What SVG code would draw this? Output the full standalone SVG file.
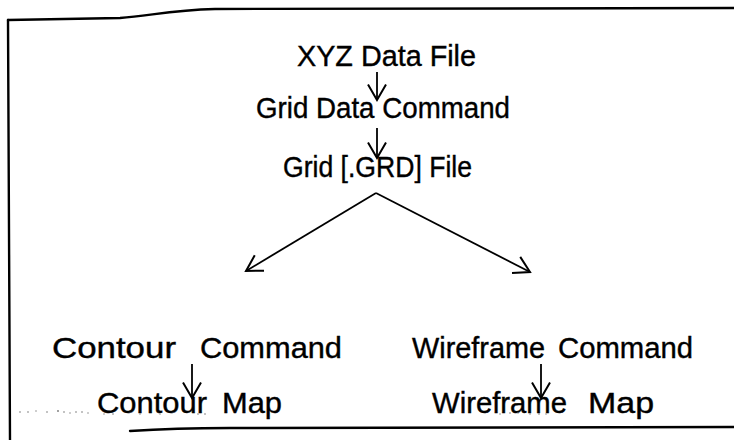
<svg xmlns="http://www.w3.org/2000/svg" width="734" height="440" viewBox="0 0 734 440">
  <style>
    .lbl { font-family: "Liberation Sans", Arial, Helvetica, sans-serif; font-size: 30px; fill: #000; stroke: #000; stroke-width: 0.4; }
    .frame { fill: none; stroke: #000; stroke-width: 2.4; stroke-linecap: round; }
    .edge { fill: none; stroke: #000; stroke-width: 1.8; }
    .speck { fill: #777; }
  </style>
  <defs>
    <marker id="vee" markerUnits="userSpaceOnUse" markerWidth="24" markerHeight="24" viewBox="-18 -12 22 24" refX="0" refY="0" orient="auto">
      <path d="M -15.6 -9 L 0 0 L -15.6 9" fill="none" stroke="#000" stroke-width="2" stroke-linejoin="miter"/>
    </marker>
  </defs>
  <rect width="734" height="440" fill="#fff"/>

  <!-- page frame: left rule, top rule with its rise, bottom rule -->
  <g id="frame">
    <path class="frame" d="M 8 20 L 120 18 C 150 16 170 10 215 9 L 734 8"/>
    <path class="frame" d="M 8 20 L 10 440"/>
    <path class="frame" d="M 130 431 C 160 429 190 428 230 428 L 734 427"/>
  </g>

  <!-- connectors -->
  <g id="connectors">
    <line class="edge" x1="377" y1="72" x2="377" y2="100" marker-end="url(#vee)"/>
    <line class="edge" x1="377" y1="128" x2="377" y2="158" marker-end="url(#vee)"/>
    <line class="edge" x1="376" y1="193" x2="246" y2="271" marker-end="url(#vee)"/>
    <line class="edge" x1="376" y1="193" x2="530" y2="272" marker-end="url(#vee)"/>
    <line class="edge" x1="192" y1="364" x2="192" y2="398" marker-end="url(#vee)"/>
    <line class="edge" x1="541" y1="364" x2="541" y2="398" marker-end="url(#vee)"/>
  </g>

  <g id="xyz-data-file"><text class="lbl" x="297" y="66" textLength="179" lengthAdjust="spacingAndGlyphs">XYZ Data File</text></g>
  <g id="grid-data-command"><text class="lbl" x="256" y="118" textLength="254" lengthAdjust="spacingAndGlyphs">Grid Data Command</text></g>
  <g id="grid-file"><text class="lbl" x="283" y="177" textLength="189" lengthAdjust="spacingAndGlyphs">Grid [.GRD] File</text></g>
  <g id="contour-command"><text class="lbl" y="358"><tspan x="52" textLength="124" lengthAdjust="spacingAndGlyphs">Contour</tspan><tspan x="200" textLength="142" lengthAdjust="spacingAndGlyphs">Command</tspan></text></g>
  <g id="wireframe-command"><text class="lbl" y="358"><tspan x="412" textLength="133" lengthAdjust="spacingAndGlyphs">Wireframe</tspan><tspan x="558" textLength="135" lengthAdjust="spacingAndGlyphs">Command</tspan></text></g>
  <g id="contour-map"><text class="lbl" y="413"><tspan x="97" textLength="110" lengthAdjust="spacingAndGlyphs">Contour</tspan><tspan x="222" textLength="60" lengthAdjust="spacingAndGlyphs">Map</tspan></text></g>
  <g id="wireframe-map"><text class="lbl" y="413"><tspan x="432" textLength="135" lengthAdjust="spacingAndGlyphs">Wireframe</tspan><tspan x="588" textLength="66" lengthAdjust="spacingAndGlyphs">Map</tspan></text></g>

  <!-- faint scanner specks along the lower edge -->
  <g id="specks">
    <circle class="speck" cx="20" cy="412" r="0.8"/><circle class="speck" cx="28" cy="412" r="0.8"/>
    <circle class="speck" cx="36" cy="411" r="0.7"/><circle class="speck" cx="47" cy="412" r="0.8"/>
    <circle class="speck" cx="58" cy="411" r="0.9"/><circle class="speck" cx="64" cy="412" r="0.8"/>
    <circle class="speck" cx="70" cy="413" r="0.7"/><circle class="speck" cx="76" cy="412" r="0.8"/>
    <circle class="speck" cx="82" cy="412" r="0.8"/><circle class="speck" cx="88" cy="413" r="0.7"/>
    <circle class="speck" cx="104" cy="414" r="0.7"/><circle class="speck" cx="113" cy="414" r="0.8"/>
    <circle class="speck" cx="140" cy="414" r="0.7"/><circle class="speck" cx="160" cy="414" r="0.7"/>
    <circle class="speck" cx="198" cy="414" r="0.8"/><circle class="speck" cx="205" cy="414" r="0.8"/>
    <circle class="speck" cx="500" cy="414" r="0.7"/><circle class="speck" cx="510" cy="413" r="0.8"/>
    <circle class="speck" cx="518" cy="413" r="0.7"/><circle class="speck" cx="530" cy="414" r="0.7"/>
    <circle class="speck" cx="539" cy="414" r="0.8"/><circle class="speck" cx="546" cy="414" r="0.7"/>
  </g>
</svg>
